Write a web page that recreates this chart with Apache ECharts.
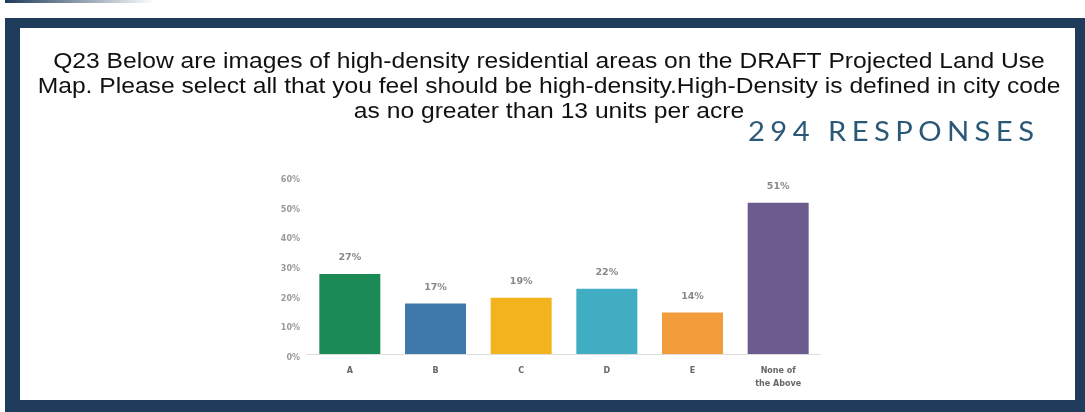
<!DOCTYPE html>
<html><head><meta charset="utf-8">
<script src="https://cdn.jsdelivr.net/npm/echarts@6/dist/echarts.min.js"></script>
<style>html,body{margin:0;padding:0;background:#fff}#c{width:1085px;height:412px}</style>
</head><body><div id="c"></div>
<script>
const categories = ['A', 'B', 'C', 'D', 'E', 'None of\nthe Above'];
const values = [27, 17, 19, 22, 14, 51];
const barColors = ['#1b8a57', '#3f79a9', '#f3b31c', '#40adc3', '#f39c3c', '#6c5b8e'];
const yTicks = [0, 10, 20, 30, 40, 50, 60];
const titleText = 'Q23 Below are images of high-density residential areas on the DRAFT Projected Land Use\nMap. Please select all that you feel should be high-density.High-Density is defined in city code\nas no greater than 13 units per acre';
const responsesText = '294 RESPONSES';

const frame = '#1f3c5c';
const chart = echarts.init(document.getElementById('c'));
chart.setOption({
  backgroundColor: '#ffffff',
  animation: false,
  graphic: [
    { type: 'rect', shape: { x: 5, y: 0, width: 150, height: 3 }, style: { fill: new echarts.graphic.LinearGradient(0,0,1,0,[{offset:0,color:frame},{offset:1,color:'rgba(31,60,92,0)'}]) } },
    { type: 'rect', shape: { x: 5, y: 18, width: 1080, height: 10 }, style: { fill: frame } },
    { type: 'rect', shape: { x: 5, y: 18, width: 15, height: 394 }, style: { fill: frame } },
    { type: 'rect', shape: { x: 1075, y: 18, width: 10, height: 394 }, style: { fill: frame } },
    { type: 'rect', shape: { x: 5, y: 400, width: 1080, height: 12 }, style: { fill: frame } },
    { type: 'text', x: 549, y: 49, scaleX: 1.12, originX: 0, style: { text: titleText, font: 'normal 22px "Liberation Sans", Arial', fill: '#111', align: 'center', verticalAlign: 'top', lineHeight: 25 } },
    { type: 'text', x: 748, y: 120, scaleX: 1.12, style: { text: responsesText.split('').join('\u2009\u200A'), font: 'normal 26px Lato', fill: '#2c5878' } }
  ],
  grid: { left: 307, right: 264, top: 176, bottom: 58, containLabel: false },
  xAxis: {
    type: 'category', data: categories,
    axisLine: { show: true, lineStyle: { color: '#d6d6d6', type: 'dotted', width: 1 } },
    axisTick: { show: false },
    axisLabel: { margin: 10, fontSize: 8, fontWeight: 'bold', color: '#666', fontFamily: 'DejaVu Sans', lineHeight: 13, interval: 0 }
  },
  yAxis: {
    type: 'value', min: 0, max: 60, interval: 10,
    splitLine: { show: false },
    axisLine: { show: false }, axisTick: { show: false },
    axisLabel: { formatter: v => yTicks.includes(v) ? v + '%' : '', margin: 7, fontSize: 8, fontWeight: 'bold', color: '#999', fontFamily: 'DejaVu Sans', verticalAlign: 'top' }
  },
  series: [{
    type: 'bar', barWidth: 61,
    data: values.map((v, i) => ({ value: v, itemStyle: { color: barColors[i] } })),
    label: { show: true, position: 'top', distance: 11, formatter: p => p.value + '%', fontSize: 9.5, fontWeight: 'bold', color: '#888', fontFamily: 'DejaVu Sans' }
  }]
});
</script></body></html>
